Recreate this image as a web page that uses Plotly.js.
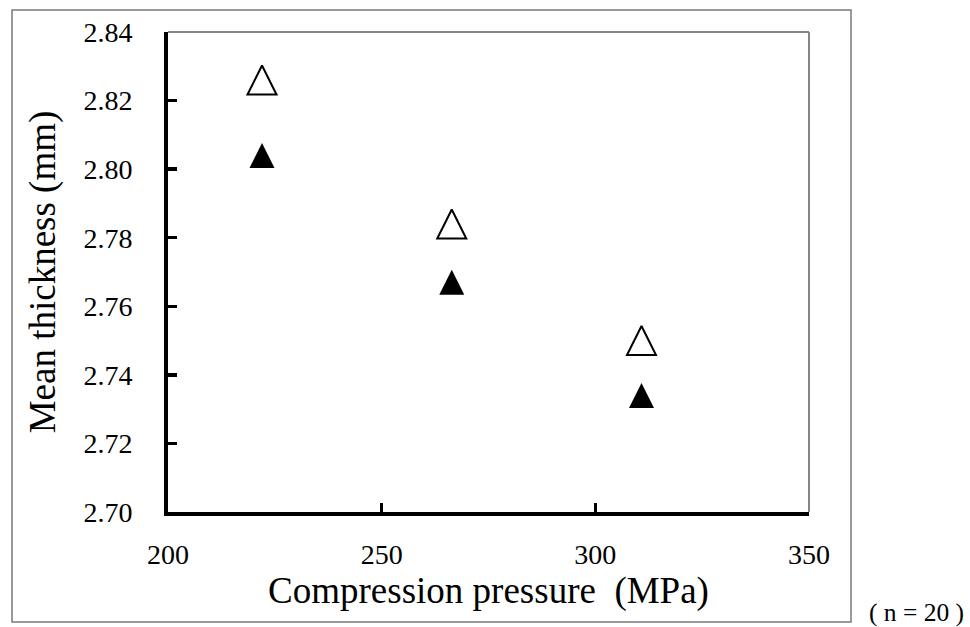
<!DOCTYPE html>
<html>
<head>
<meta charset="utf-8">
<script src="https://cdn.plot.ly/plotly-3.0.1.min.js"></script>
<style>
  html, body { margin: 0; padding: 0; background: #ffffff; }
  #chart { width: 970px; height: 627px; }
</style>
</head>
<body>
<div id="chart"></div>
<script>
// Data
const pressure = [222.0, 266.4, 310.8];          // Compression pressure (MPa)
const thicknessOpen = [2.826, 2.784, 2.750];     // open triangles (mm)
const thicknessFilled = [2.804, 2.767, 2.734];   // filled triangles (mm)
const xTicks = [200, 250, 300, 350];
const yTicks = [2.70, 2.72, 2.74, 2.76, 2.78, 2.80, 2.82, 2.84];
const xTickLabels = ['200', '250', '300', '350'];
const yTickLabels = ['2.70', '2.72', '2.74', '2.76', '2.78', '2.80', '2.82', '2.84'];
const xTitle = 'Compression pressure\u00a0 (MPa)';
const yTitle = 'Mean thickness (mm)';
const noteText = '( n = 20 )';

const serif = '"Liberation Serif", "Times New Roman", Times, serif';

const traces = [
  {
    type: 'scatter', mode: 'markers', name: 'open',
    x: pressure, y: thicknessOpen,
    marker: { symbol: 'arrow-down', angle: 180, size: 29, standoff: 14.5,
              color: '#ffffff', line: { color: '#000000', width: 2 } },
    cliponaxis: false, showlegend: false, hoverinfo: 'x+y'
  },
  {
    type: 'scatter', mode: 'markers', name: 'filled',
    x: pressure, y: thicknessFilled,
    marker: { symbol: 'arrow-down', angle: 180, size: 25, standoff: 12.5,
              color: '#000000', line: { color: '#000000', width: 0 } },
    cliponaxis: false, showlegend: false, hoverinfo: 'x+y'
  }
];

const layout = {
  width: 970, height: 627,
  margin: { l: 168, r: 161, t: 32, b: 115, pad: 0 },
  paper_bgcolor: '#ffffff', plot_bgcolor: '#ffffff',
  font: { family: serif, color: '#000000', size: 28 },
  showlegend: false,
  xaxis: {
    range: [200, 350], tickmode: 'array', tickvals: xTicks, ticktext: xTickLabels,
    showgrid: false, zeroline: false,
    showline: true, linecolor: '#000000', linewidth: 4,
    ticks: 'inside', ticklen: 9, tickwidth: 3.5, tickcolor: '#000000',
    tickfont: { family: serif, size: 28, color: '#000000' },
    ticklabelstandoff: 14,
    title: { text: xTitle, font: { family: serif, size: 37, color: '#000000' }, standoff: 10 },
    automargin: false, fixedrange: true
  },
  yaxis: {
    range: [2.70, 2.84], tickmode: 'array', tickvals: yTicks, ticktext: yTickLabels,
    showgrid: false, zeroline: false,
    showline: true, linecolor: '#000000', linewidth: 4,
    ticks: 'inside', ticklen: 9, tickwidth: 3.5, tickcolor: '#000000',
    tickfont: { family: serif, size: 28, color: '#000000' },
    ticklabelstandoff: 26,
    title: { text: yTitle, font: { family: serif, size: 37, color: '#000000' }, standoff: 17 },
    automargin: false, fixedrange: true
  },
  shapes: [
    // grey top and right border of the plot area
    { type: 'line', xref: 'paper', yref: 'paper', x0: 0, x1: 1, y0: 1, y1: 1,
      line: { color: '#868686', width: 2 } },
    { type: 'line', xref: 'paper', yref: 'paper', x0: 1, x1: 1, y0: 0, y1: 1,
      line: { color: '#868686', width: 2 } },
    // outer chart frame
    { type: 'rect', xref: 'paper', yref: 'paper',
      x0: (12 - 168) / 641, x1: (851 - 168) / 641,
      y0: (512 - 622) / 480, y1: (512 - 10) / 480,
      line: { color: '#7a7a7a', width: 1.5 }, fillcolor: 'rgba(0,0,0,0)', layer: 'below' }
  ],
  annotations: [
    { text: noteText, xref: 'paper', yref: 'paper',
      x: (916 - 168) / 641, y: (512 - 612) / 480,
      xanchor: 'center', yanchor: 'middle', showarrow: false,
      font: { family: serif, size: 25.5, color: '#000000' } }
  ]
};

Plotly.newPlot('chart', traces, layout, { displayModeBar: false, staticPlot: true });
</script>
</body>
</html>
